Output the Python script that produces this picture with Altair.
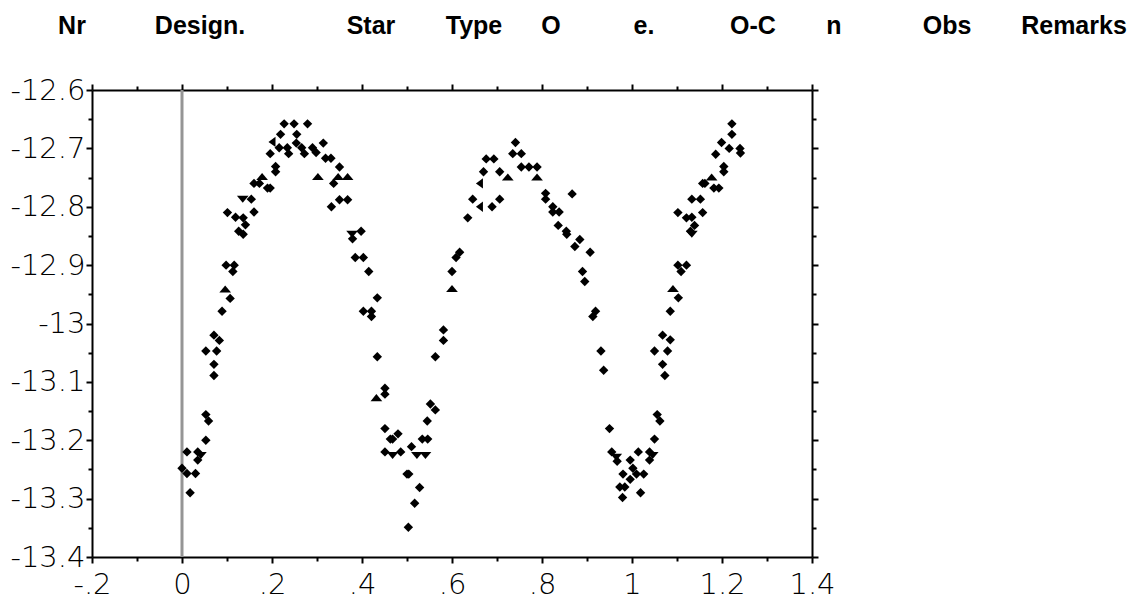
import altair as alt
import pandas as pd

# ---------------- data ----------------
PHASE = [
    # primary minimum and rising branch
    0.000, 0.011, 0.035, 0.042, 0.035, 0.011, 0.030, 0.018, 0.053, 0.053,
    0.059, 0.071, 0.071, 0.053, 0.077, 0.071, 0.083, 0.089, 0.107, 0.096,
    0.113, 0.098, 0.116, 0.101, 0.119, 0.136, 0.141, 0.126, 0.136, 0.135,
    0.154, 0.160, 0.160, 0.172, 0.178, 0.190, 0.196, 0.208, 0.208, 0.196,
    0.200, 0.216, 0.219, 0.227, 0.249, 0.279, 0.255, 0.254, 0.234, 0.237,
    0.266, 0.272, 0.290, 0.298, 0.314, 0.319, 0.331, 0.302, 0.350, 0.347,
    0.368, 0.337, 0.332, 0.350, 0.368,
    # descending branch, secondary minimum, rising branch, maximum II
    0.378, 0.379, 0.398, 0.385, 0.403, 0.415, 0.434, 0.403, 0.421, 0.421,
    0.434, 0.451, 0.451, 0.432, 0.451, 0.463, 0.468, 0.480, 0.451, 0.468,
    0.486, 0.510, 0.522, 0.541, 0.534, 0.546, 0.545, 0.552, 0.563, 0.500,
    0.504, 0.528, 0.517, 0.503, 0.563, 0.581, 0.581, 0.600, 0.600, 0.609,
    0.617, 0.635, 0.646, 0.661, 0.670, 0.676, 0.693, 0.706, 0.724, 0.661,
    0.689, 0.706, 0.741, 0.735, 0.754, 0.754, 0.771, 0.789, 0.789, 0.808,
    0.808, 0.824, 0.824, 0.838, 0.836, 0.854, 0.855, 0.873, 0.867, 0.884,
    0.907, 0.890, 0.895, 0.919, 0.913, 0.931, 0.937, 0.950, 0.955, 0.965,
    0.967, 0.973, 0.979, 0.980, 0.984, 0.996, 0.996,
    # repeated cycle after phase 1
    1.002, 1.010, 1.014, 1.019, 1.026, 1.039, 1.039, 1.046, 1.050, 1.056,
    1.062, 1.068, 1.073, 1.050, 1.079, 1.068, 1.085, 1.085, 1.091, 1.103,
    1.109, 1.102, 1.121, 1.102, 1.121, 1.133, 1.139, 1.130, 1.133, 1.133,
    1.152, 1.157, 1.157, 1.162, 1.177, 1.182, 1.193, 1.204, 1.204, 1.186,
    1.199, 1.222, 1.222, 1.216, 1.240, 1.241,
]
MAG = [
    -13.248, -13.220, -13.220, -13.226, -13.234, -13.257, -13.257, -13.290, -13.200, -13.156,
    -13.167, -13.070, -13.089, -13.047, -13.047, -13.020, -13.029, -12.979, -12.957, -12.941,
    -12.911, -12.900, -12.900, -12.810, -12.818, -12.819, -12.831, -12.842, -12.847, -12.787,
    -12.787, -12.809, -12.760, -12.760, -12.748, -12.768, -12.768, -12.731, -12.740, -12.709,
    -12.689, -12.699, -12.676, -12.658, -12.658, -12.658, -12.676, -12.691, -12.699, -12.709,
    -12.699, -12.709, -12.699, -12.707, -12.691, -12.717, -12.717, -12.748, -12.732, -12.748,
    -12.748, -12.760, -12.800, -12.788, -12.788,
    -12.847, -12.855, -12.842, -12.887, -12.887, -12.911, -12.956, -12.979, -12.979, -12.988,
    -13.057, -13.111, -13.121, -13.127, -13.180, -13.198, -13.198, -13.189, -13.220, -13.226,
    -13.220, -13.211, -13.226, -13.226, -13.198, -13.198, -13.167, -13.138, -13.148, -13.258,
    -13.258, -13.281, -13.308, -13.349, -13.057, -13.011, -13.029, -12.940, -12.911, -12.887,
    -12.878, -12.819, -12.787, -12.760, -12.740, -12.718, -12.718, -12.740, -12.749, -12.800,
    -12.800, -12.787, -12.690, -12.709, -12.709, -12.732, -12.732, -12.732, -12.749, -12.777,
    -12.787, -12.800, -12.809, -12.809, -12.832, -12.842, -12.847, -12.868, -12.778, -12.856,
    -12.878, -12.911, -12.928, -12.979, -12.988, -13.047, -13.080, -13.180, -13.220, -13.229,
    -13.236, -13.280, -13.298, -13.258, -13.280, -13.234, -13.267,
    -13.248, -13.258, -13.220, -13.290, -13.258, -13.220, -13.234, -13.226, -13.198, -13.156,
    -13.167, -13.070, -13.089, -13.047, -13.047, -13.020, -13.028, -12.979, -12.940, -12.956,
    -12.911, -12.900, -12.900, -12.810, -12.819, -12.818, -12.832, -12.842, -12.847, -12.787,
    -12.787, -12.810, -12.760, -12.760, -12.749, -12.768, -12.768, -12.731, -12.740, -12.710,
    -12.690, -12.676, -12.658, -12.700, -12.700, -12.708,
]
# d = diamond, u = triangle up, v = triangle down, l = triangle left
MARKER = list(
    # first cycle (65 points)
    "dddvdddddd" "dddddddddu" "dddddddddv" "dddduddddd" "lddddddddd"
    "dddddddudu" "udddd"
    # second half of the cycle (87 points)
    "vddddddddd" "dddudddddv" "ddvvdddddd" "dddddddudd" "dddlddddul"
    "ddddddddud" "dddddddddd" "dddddddddv" "ddddddd"
    # repeated part (46 points)
    "dddddddvdd" "ddddddddud" "ddddddddvd" "dddduddddd" "dddddd"
)

ZERO_PHASE = [0.0]
HEADER_LABELS = ["Nr", "Design.", "Star", "Type", "O", "e.", "O-C", "n", "Obs", "Remarks"]

# ---------------- layout / style ----------------
PLOT_W, PLOT_H = 720, 467
PAD_L, PAD_T, PAD_R, PAD_B = 84, 82, 315, 44
HEADER_CX = [72, 200, 371, 474, 551, 644, 753, 834, 947, 1074]  # page px
HEADER_BASE = 34  # page px baseline

X_MAJOR = [-0.2, 0.0, 0.2, 0.4, 0.6, 0.8, 1.0, 1.2, 1.4]
X_MINOR = [-0.1, 0.1, 0.3, 0.5, 0.7, 0.9, 1.1, 1.3]
Y_MAJOR = [-12.6, -12.7, -12.8, -12.9, -13.0, -13.1, -13.2, -13.3, -13.4]
Y_MINOR = [-12.65, -12.75, -12.85, -12.95, -13.05, -13.15, -13.25, -13.35]

SHAPE_PATHS = [
    "M-1,0L0,-1L1,0L0,1Z",
    "M-1.25,0.75L0,-0.75L1.25,0.75Z",
    "M-1.25,-0.75L1.25,-0.75L0,0.75Z",
    "M-0.75,0L0.75,-1.1L0.75,1.1Z",
]

LABEL_FONT = "DejaVu Sans"
df = pd.DataFrame({"phase": PHASE, "mag": MAG, "m": MARKER})
zero_df = pd.DataFrame({"phase": ZERO_PHASE})

xs = alt.Scale(domain=[-0.2, 1.4], nice=False, zero=False)
ys = alt.Scale(domain=[-13.4, -12.6], nice=False, zero=False)

common = dict(grid=False, title=None, tickColor="black", domainColor="black",
              tickWidth=2, domainWidth=2)

ax_x_bottom = alt.Axis(orient="bottom", values=X_MAJOR, tickSize=6,
                       labelExpr="replace('' + datum.value, '0.', '.')",
                       labelFont=LABEL_FONT, labelFontSize=29, labelFontWeight=200,
                       labelColor="black", labelPadding=7, labelFlush=False,
                       labelOverlap=False, **common)
ax_x_bottom_minor = alt.Axis(orient="bottom", values=X_MINOR, tickSize=4, labels=False,
                             domain=False, **common)
ax_x_top = alt.Axis(orient="top", values=X_MAJOR, tickSize=6, labels=False, **common)
ax_x_top_minor = alt.Axis(orient="top", values=X_MINOR, tickSize=4, labels=False,
                          domain=False, **common)
ax_y_left = alt.Axis(orient="left", values=Y_MAJOR, tickSize=6,
                     labelExpr="'' + datum.value",
                     labelFont=LABEL_FONT, labelFontSize=29, labelFontWeight=200,
                     labelColor="black", labelPadding=1, labelFlush=False,
                     labelOverlap=False, **common)
ax_y_left_minor = alt.Axis(orient="left", values=Y_MINOR, tickSize=4, labels=False,
                           domain=False, **common)
ax_y_right = alt.Axis(orient="right", values=Y_MAJOR, tickSize=6, labels=False, **common)
ax_y_right_minor = alt.Axis(orient="right", values=Y_MINOR, tickSize=4, labels=False,
                            domain=False, **common)

zero_rule = alt.Chart(zero_df).mark_rule(color="#959595", strokeWidth=3).encode(
    x=alt.X("phase:Q", scale=xs, axis=ax_x_bottom)
)

shape_enc = alt.Shape("m:N", scale=alt.Scale(domain=["d", "u", "v", "l"], range=SHAPE_PATHS),
                      legend=None)

points = alt.Chart(df).mark_point(filled=True, color="black", opacity=1, size=88).encode(
    x=alt.X("phase:Q", scale=xs, axis=ax_x_bottom_minor),
    y=alt.Y("mag:Q", scale=ys, axis=ax_y_left),
    shape=shape_enc,
)

ghost1 = alt.Chart(df).mark_point(opacity=0).encode(
    x=alt.X("phase:Q", scale=xs, axis=ax_x_top),
    y=alt.Y("mag:Q", scale=ys, axis=ax_y_right),
)
ghost2 = alt.Chart(df).mark_point(opacity=0).encode(
    x=alt.X("phase:Q", scale=xs, axis=ax_x_top_minor),
    y=alt.Y("mag:Q", scale=ys, axis=ax_y_left_minor),
)
ghost3 = alt.Chart(df).mark_point(opacity=0).encode(
    x=alt.X("phase:Q", scale=xs, axis=None),
    y=alt.Y("mag:Q", scale=ys, axis=ax_y_right_minor),
)

headers = []
for lab, cx in zip(HEADER_LABELS, HEADER_CX):
    headers.append(
        alt.Chart(pd.DataFrame({"t": [lab]})).mark_text(
            font="Liberation Sans", fontWeight="bold", fontSize=25, color="black",
            align="center", baseline="alphabetic"
        ).encode(
            text="t:N",
            x=alt.value(cx - 8 - PAD_L),
            y=alt.value(HEADER_BASE - 8 - PAD_T),
        )
    )

chart = alt.layer(zero_rule, points, ghost1, ghost2, ghost3, *headers).resolve_axis(
    x="independent", y="independent"
).properties(
    width=PLOT_W, height=PLOT_H,
    padding={"left": PAD_L, "top": PAD_T, "right": PAD_R, "bottom": PAD_B},
    autosize=alt.AutoSizeParams(type="none"),
    background="white",
).configure_view(strokeWidth=0)

chart.save("out.html", embed_options={"renderer": "svg", "actions": False})
